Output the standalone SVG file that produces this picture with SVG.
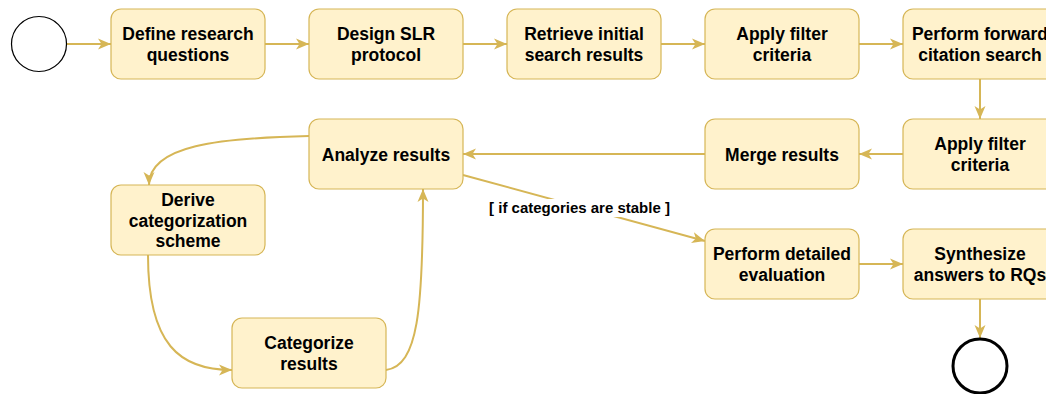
<svg xmlns="http://www.w3.org/2000/svg" width="1046" height="394" viewBox="0 0 1046 394">
<style>
.box{fill:#fff2cc;stroke:#d6b656;stroke-width:1.2}
.t{font-family:"Liberation Sans",Arial,Helvetica,sans-serif;font-weight:bold;font-size:17.5px;fill:#000;text-anchor:middle}
.lbl{font-family:"Liberation Sans",Arial,Helvetica,sans-serif;font-weight:bold;font-size:15px;fill:#000;text-anchor:middle}
.e{fill:none;stroke:#d6b656;stroke-width:2;marker-end:url(#arr)}
</style>
<defs>
<marker id="arr" markerUnits="userSpaceOnUse" markerWidth="13" markerHeight="12" viewBox="0 0 13 12" refX="13" refY="6" orient="auto">
<path d="M0,0.5 L13,6 L0,11.5 L3.5,6 z" fill="#d6b656"/>
</marker>
</defs>
<rect width="1046" height="394" fill="#fff"/>
<g id="connectors">
<path class="e" d="M66.5,44 L111,44"/>
<path class="e" d="M265,44 L309,44"/>
<path class="e" d="M463,44 L507,44"/>
<path class="e" d="M661,44 L705,44"/>
<path class="e" d="M859,44 L903,44"/>
<path class="e" d="M980,79 L980,119"/>
<path class="e" d="M903,154 L859,154"/>
<path class="e" d="M705,154 L463,154"/>
<path class="e" d="M309,136 C220,138 149,145 149,185"/>
<path class="e" d="M148,255 C148,345 180,370 232,370"/>
<path class="e" d="M386,370 C418,366 423,310 423,189"/>
<path class="e" d="M463,175 L705,241"/>
<path class="e" d="M859,264 L903,264"/>
<path class="e" d="M980,299 L980,338"/>
<rect x="485" y="199" width="189" height="18" fill="#fff"/>
<text class="lbl" x="579.5" y="213">[ if categories are stable ]</text>
</g>
<g id="start"><circle cx="39" cy="44" r="27.5" fill="#fff" stroke="#000" stroke-width="1.2"/></g>
<g id="n1"><rect class="box" x="111" y="9" width="154" height="70" rx="10"/><text class="t" x="188" y="40">Define research</text><text class="t" x="188" y="61">questions</text></g>
<g id="n2"><rect class="box" x="309" y="9" width="154" height="70" rx="10"/><text class="t" x="386" y="40">Design SLR</text><text class="t" x="386" y="61">protocol</text></g>
<g id="n3"><rect class="box" x="507" y="9" width="154" height="70" rx="10"/><text class="t" x="584" y="40">Retrieve initial</text><text class="t" x="584" y="61">search results</text></g>
<g id="n4"><rect class="box" x="705" y="9" width="154" height="70" rx="10"/><text class="t" x="782" y="40">Apply filter</text><text class="t" x="782" y="61">criteria</text></g>
<g id="n5"><rect class="box" x="903" y="9" width="154" height="70" rx="10"/><text class="t" x="980" y="40">Perform forward</text><text class="t" x="980" y="61">citation search</text></g>
<g id="n6"><rect class="box" x="903" y="119" width="154" height="70" rx="10"/><text class="t" x="980" y="150">Apply filter</text><text class="t" x="980" y="171">criteria</text></g>
<g id="n7"><rect class="box" x="705" y="119" width="154" height="70" rx="10"/><text class="t" x="782" y="160.5">Merge results</text></g>
<g id="n8"><rect class="box" x="309" y="119" width="154" height="70" rx="10"/><text class="t" x="386" y="160.5">Analyze results</text></g>
<g id="n9"><rect class="box" x="111" y="185" width="154" height="70" rx="10"/><text class="t" x="188" y="206">Derive</text><text class="t" x="188" y="226.5">categorization</text><text class="t" x="188" y="247">scheme</text></g>
<g id="n10"><rect class="box" x="232" y="318" width="154" height="70" rx="10"/><text class="t" x="309" y="349">Categorize</text><text class="t" x="309" y="370">results</text></g>
<g id="n11"><rect class="box" x="705" y="229" width="154" height="70" rx="10"/><text class="t" x="782" y="260">Perform detailed</text><text class="t" x="782" y="281">evaluation</text></g>
<g id="n12"><rect class="box" x="903" y="229" width="154" height="70" rx="10"/><text class="t" x="980" y="260">Synthesize</text><text class="t" x="980" y="281">answers to RQs</text></g>
<g id="end"><circle cx="980" cy="366" r="27" fill="#fff" stroke="#000" stroke-width="3"/></g>
</svg>
